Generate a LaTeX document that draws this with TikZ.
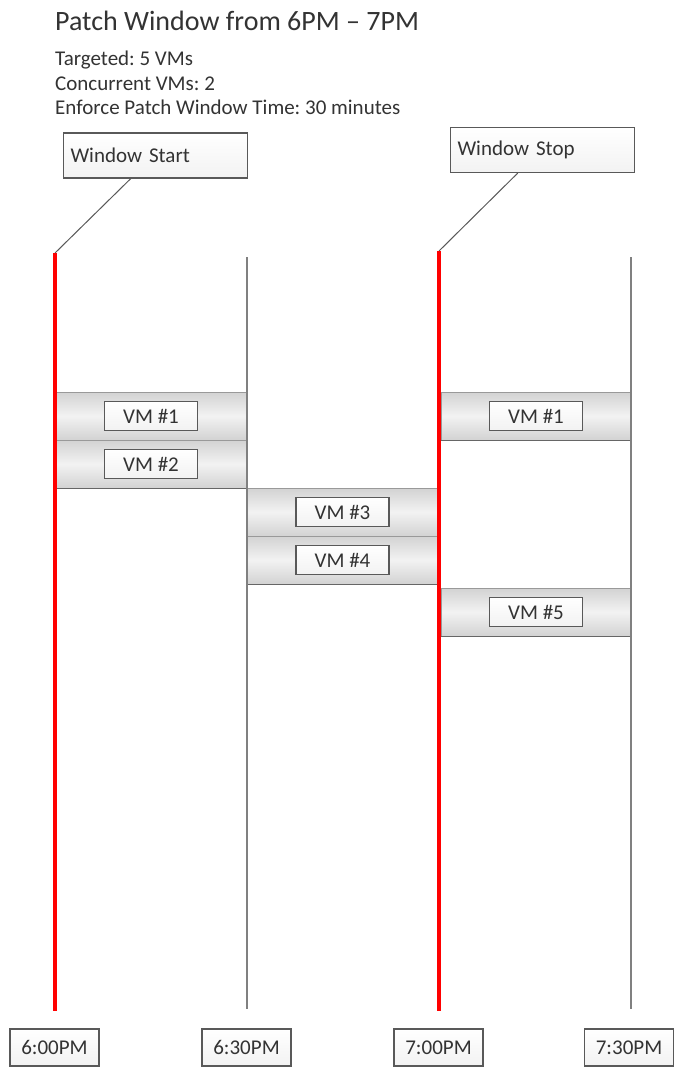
\documentclass[tikz,border=0pt]{standalone}
\usepackage{fontspec}
\setmainfont{Carlito}
\frenchspacing
\begin{document}
\begin{tikzpicture}[x = 1pt, y = -1pt,
		txt/.style = {text=black!80, font=\fontsize{21}{25}\selectfont},
		redline/.style = {line width=4pt, draw=red},
		greyline/.style = {line width=2pt, draw=gray},
		band/.style = {draw=gray!80, line width=1pt, top color=gray!35, bottom color=gray!35, middle color=gray!10, minimum width=190pt, minimum height=48pt, inner sep=0pt},
		bandedge/.style = {line width=1.5pt, draw=black!60},
		vmbox/.style = {txt, draw=black!65, line width=1.2pt, top color=white, bottom color=gray!10, minimum width=93pt, minimum height=29pt, inner sep=0pt},
		timebox/.style = {vmbox, minimum width=89pt, minimum height=37pt},
		callbox/.style = {txt, draw=black!65, line width=1.2pt, top color=white, bottom color=gray!10, text width=170pt, align=left, minimum height=45pt, inner sep=7pt},
		callout/.style = {line width=1pt, draw=gray!70!black}]
	\fill[white] (0, 0) rectangle (673, 1067);
	\useasboundingbox (0, 0) rectangle (673, 1067);
	
	% heading
	\node[txt, font=\fontsize{28}{33}\selectfont, anchor=base west, inner sep=0pt] (title) at (55, 31) {Patch Window from 6PM – 7PM};
	\node[txt, anchor=base west, inner sep=0pt] (targeted) at (55, 66) {Targeted: 5 VMs};
	\node[txt, anchor=base west, inner sep=0pt] (concurrent) at (55, 90.5) {Concurrent VMs: 2};
	\node[txt, anchor=base west, inner sep=0pt] (enforce) at (55, 115) {Enforce Patch Window Time: 30 minutes};
	
	% bands
	\node[band] (b1) at (151, 416) {};
	\node[band] (b2) at (151, 464) {};
	\node[band] (b3) at (342.5, 512) {};
	\node[band] (b4) at (342.5, 560) {};
	\node[band] (b5) at (536, 416) {};
	\node[band] (b6) at (536, 612) {};
	\foreach \b in {b2, b4, b5, b6}
		\draw[bandedge] (\b.south west) -- (\b.south east);
	
	% time lines
	\coordinate (top600) at (55, 253);
	\coordinate (bot600) at (55, 1011);
	\coordinate (top630) at (247, 257);
	\coordinate (bot630) at (247, 1009);
	\coordinate (top700) at (439, 251);
	\coordinate (bot700) at (439, 1011);
	\coordinate (top730) at (631, 257);
	\coordinate (bot730) at (631, 1009);
	\draw[greyline] (top630) -- (bot630);
	\draw[greyline] (top730) -- (bot730);
	\draw[redline] (top600) -- (bot600);
	\draw[redline] (top700) -- (bot700);
	
	% vms
	\node[vmbox] (vm1) at (b1.center) {VM \#1};
	\node[vmbox] (vm2) at (b2.center) {VM \#2};
	\node[vmbox] (vm3) at (b3.center) {VM \#3};
	\node[vmbox] (vm4) at (b4.center) {VM \#4};
	\node[vmbox] (vm1b) at (b5.center) {VM \#1};
	\node[vmbox] (vm5) at (b6.center) {VM \#5};
	
	% window marks
	\node[callbox] (winstart) at (155.5, 155.5) {Window Start};
	\node[callbox] (winstop) at (542.5, 150) {Window Stop};
	\draw[callout] (winstart.-137) -- (top600);
	\draw[callout] (winstop.-137) -- (top700);
	
	% times
	\node[timebox] (t600) at (54.5, 1047.5) {6:00PM};
	\node[timebox] (t630) at (246.5, 1047.5) {6:30PM};
	\node[timebox] (t700) at (438.5, 1047.5) {7:00PM};
	\node[timebox] (t730) at (629, 1047.5) {7:30PM};
	
\end{tikzpicture}
\end{document}
